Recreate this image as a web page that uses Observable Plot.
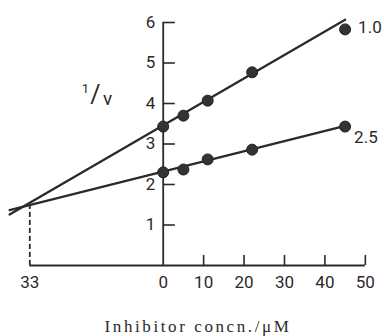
<!DOCTYPE html>
<html>
<head>
<meta charset="utf-8">
<script src="https://cdn.jsdelivr.net/npm/d3@7"></script>
<script src="https://cdn.jsdelivr.net/npm/@observablehq/plot@0.6"></script>
<style>
  html, body { margin: 0; padding: 0; background: #fff; }
  #caption {
    font-family: "Liberation Serif", "DejaVu Serif", serif;
    font-size: 17px;
    letter-spacing: 2.6px;
    color: #2a2a2a;
    text-align: center;
    padding-left: 12px;
    margin-top: 8px;
    line-height: 18px;
    width: 384px;
    box-sizing: border-box;
    white-space: nowrap;
  }
</style>
</head>
<body>
<div id="chart"></div>
<div id="caption">Inhibitor concn./μM</div>
<script>
// Inhibitor concentration (µM) of the measured points
const inhibitor = [0, 5, 11, 22, 45];
// 1/v for the two substrate concentrations
const series10 = [3.43, 3.70, 4.07, 4.77, 5.83];
const series25 = [2.30, 2.37, 2.62, 2.86, 3.43];
const seriesNames = ["1.0", "2.5"];
// fitted lines (drawn from the intersection region to the last point)
const fitX = [-38, 45];
const fit10 = [1.26, 6.07];
const fit25 = [1.37, 3.45];
// intersection (−Ki)
const crossX = -33;
const crossY = 1.5;
// axes
const yTicks = [1, 2, 3, 4, 5, 6];
const xTicks = [10, 20, 30, 40, 50];
const xLabelValues = [-33, 0, 10, 20, 30, 40, 50];
const xLabelTexts = ["33", "0", "10", "20", "30", "40", "50"];
const yAxisLabelParts = ["1", "/", "v"];

const points = [
  ...inhibitor.map((x, i) => ({x, y: series10[i], s: seriesNames[0]})),
  ...inhibitor.map((x, i) => ({x, y: series25[i], s: seriesNames[1]}))
];
const lines = [
  ...fitX.map((x, i) => ({x, y: fit10[i], s: seriesNames[0]})),
  ...fitX.map((x, i) => ({x, y: fit25[i], s: seriesNames[1]}))
];
const ends = [
  {x: inhibitor[4], y: series10[4], s: seriesNames[0]},
  {x: inhibitor[4], y: series25[4], s: seriesNames[1]}
];

const ink = "#2a2a2a";
const tickFont = "Roboto, 'DejaVu Sans', sans-serif";

const chart = Plot.plot({
  width: 384,
  height: 310,
  marginLeft: 1,
  marginRight: 3,
  marginTop: 22,
  marginBottom: 45,
  x: {domain: [-40, 54], axis: null},
  y: {domain: [0, 6], axis: null},
  style: {background: "#fff", color: ink},
  marks: [
    // axis lines
    Plot.ruleX([0], {y1: 0, y2: 6, stroke: ink, strokeWidth: 1.8}),
    Plot.ruleY([0], {x1: crossX, x2: 50, stroke: ink, strokeWidth: 1.8}),
    // ticks
    Plot.ruleY(yTicks, {x1: 0, x2: 3, stroke: ink, strokeWidth: 1.6}),
    Plot.ruleX(xTicks, {y1: 0, y2: 0.25, stroke: ink, strokeWidth: 1.6}),
    // tick labels
    Plot.text(yTicks, {x: 0, y: d => d, text: d => String(d), dx: -8, textAnchor: "end",
      fontSize: 17, fontFamily: tickFont, fill: ink}),
    Plot.text(xLabelValues, {x: d => d, y: 0, text: (d, i) => xLabelTexts[i], dy: 17,
      fontSize: 17, fontFamily: tickFont, fill: ink}),
    // dashed drop line
    Plot.ruleX([crossX], {y1: 0, y2: crossY, stroke: ink, strokeWidth: 1.8, strokeDasharray: "5,3"}),
    // fitted lines
    Plot.line(lines, {x: "x", y: "y", z: "s", stroke: ink, strokeWidth: 2.3}),
    // data points
    Plot.dot(points, {x: "x", y: "y", r: 5.5, fill: "#333", stroke: "#222", strokeWidth: 1}),
    // series labels
    Plot.text(ends.slice(0, 1), {x: "x", y: "y", text: "s", dx: 13, dy: -2, textAnchor: "start",
      fontSize: 17, fontFamily: tickFont, fill: ink}),
    Plot.text(ends.slice(1), {x: "x", y: "y", text: "s", dx: 9, dy: 11, textAnchor: "start",
      fontSize: 17, fontFamily: tickFont, fill: ink}),
    // y-axis label 1/v
    Plot.text([yAxisLabelParts[0]], {x: -17, y: 4.2, text: d => d, dx: -9, dy: -7,
      fontSize: 13, fontFamily: tickFont, fill: ink}),
    Plot.text([yAxisLabelParts[1]], {x: -17, y: 4.2, text: d => d, dx: 1, dy: 0,
      fontSize: 25, fontFamily: tickFont, fill: ink}),
    Plot.text([yAxisLabelParts[2]], {x: -17, y: 4.2, text: d => d, dx: 13, dy: 4,
      fontSize: 19, fontFamily: tickFont, fill: ink})
  ]
});
document.getElementById("chart").appendChild(chart);
</script>
</body>
</html>
